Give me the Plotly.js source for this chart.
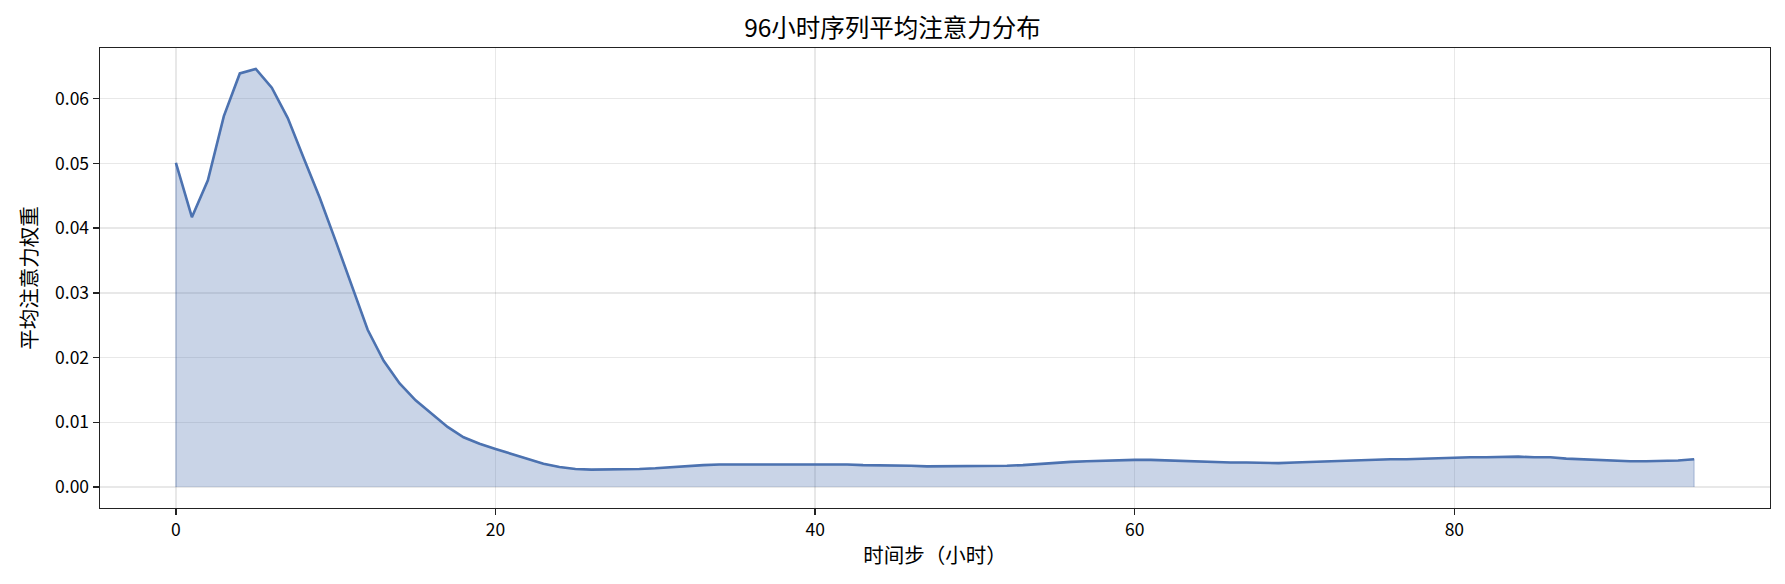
<!DOCTYPE html>
<html>
<head>
<meta charset="utf-8">
<script src="https://cdn.plot.ly/plotly-3.0.1.min.js"></script>
<style>html,body{margin:0;padding:0;background:#fff;}#chart{width:1785px;height:584px;}</style>
</head>
<body>
<div id="chart"></div>
<script>
const hours = Array.from({length: 96}, (_, i) => i);
const attention = [
  0.0501, 0.0417, 0.0474, 0.0573, 0.0639, 0.0646, 0.0617, 0.0570, 0.0508, 0.0447,
  0.0380, 0.0310, 0.0243, 0.0195, 0.0160, 0.0134, 0.0113, 0.0093, 0.0077, 0.0067,
  0.0059, 0.0051, 0.0043, 0.0036, 0.0031, 0.0028, 0.0027, 0.0027, 0.0027, 0.0028,
  0.0029, 0.0031, 0.0032, 0.0034, 0.0035, 0.0035, 0.0036, 0.0036, 0.0035, 0.0035,
  0.0035, 0.0035, 0.0035, 0.0034, 0.0034, 0.0034, 0.0033, 0.0032, 0.0032, 0.0032,
  0.0032, 0.0033, 0.0033, 0.0034, 0.0036, 0.0037, 0.0039, 0.0040, 0.0041, 0.0042,
  0.0042, 0.0042, 0.0041, 0.0040, 0.0039, 0.0039, 0.0038, 0.0038, 0.0037, 0.0037,
  0.0038, 0.0039, 0.0040, 0.0041, 0.0042, 0.0042, 0.0043, 0.0043, 0.0044, 0.0044,
  0.0045, 0.0046, 0.0046, 0.0047, 0.0047, 0.0046, 0.0046, 0.0044, 0.0043, 0.0041,
  0.0040, 0.0040, 0.0040, 0.0040, 0.0041, 0.0043
];
const xTickVals = [0, 20, 40, 60, 80];
const yTickVals = [0, 0.01, 0.02, 0.03, 0.04, 0.05, 0.06];
const titleText = '96小时序列平均注意力分布';
const xTitle = '时间步（小时）';
const yTitle = '平均注意力权重';

const fontFam = '"Noto Sans CJK SC", "DejaVu Sans", sans-serif';
const blue = '#4C72B0';

// fill polygon (closed to zero) built from the data
const polyX = [hours[0]].concat(hours, [hours[hours.length - 1]]);
const polyY = [0].concat(attention, [0]);

const traces = [
  {
    x: polyX, y: polyY, type: 'scatter', mode: 'lines', fill: 'toself',
    fillcolor: 'rgba(76,114,176,0.3)',
    line: {color: 'rgba(76,114,176,0.3)', width: 1.4},
    hoverinfo: 'skip', showlegend: false
  },
  {
    x: hours, y: attention, type: 'scatter', mode: 'lines',
    line: {color: blue, width: 2.6},
    showlegend: false
  }
];

const axisCommon = {
  showline: true, linecolor: '#222', linewidth: 1.4, mirror: true,
  ticks: 'outside', ticklen: 6, tickwidth: 1.4, tickcolor: '#222',
  showgrid: true, gridcolor: 'rgba(0,0,0,0.09)', gridwidth: 1.4,
  zeroline: false,
  tickfont: {family: fontFam, size: 17.5, color: '#000'}
};

const layout = {
  width: 1785, height: 584,
  margin: {l: 100, r: 15, t: 48, b: 76},
  paper_bgcolor: '#fff', plot_bgcolor: '#fff',
  title: {text: titleText, x: 0.5, xanchor: 'center', y: 1 - 28 / 584, yanchor: 'middle',
          font: {family: fontFam, size: 24.5, color: '#000'}},
  xaxis: Object.assign({}, axisCommon, {
    range: [-4.75, 99.75], tickvals: xTickVals,
    automargin: false,
    title: {text: xTitle, standoff: 8, font: {family: fontFam, size: 20.5, color: '#000'}}
  }),
  yaxis: Object.assign({}, axisCommon, {
    range: [-0.00323, 0.06783], tickvals: yTickVals,
    tickformat: '.2f', automargin: false,
    title: {text: yTitle, standoff: 12, font: {family: fontFam, size: 20.5, color: '#000'}}
  }),
  showlegend: false
};

Plotly.newPlot('chart', traces, layout, {displayModeBar: false, staticPlot: true});
</script>
</body>
</html>
